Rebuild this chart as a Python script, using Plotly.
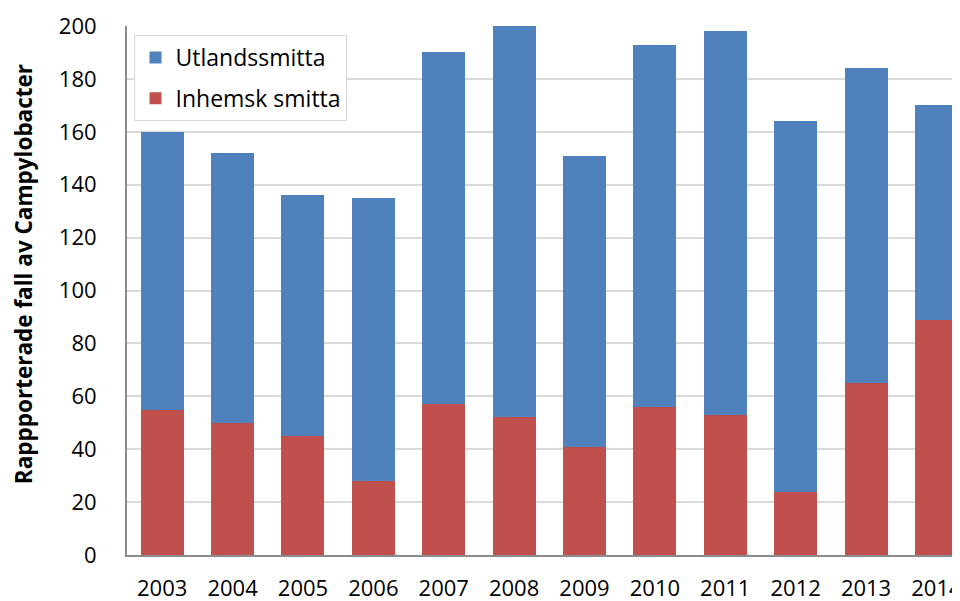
import plotly.graph_objects as go

years = ["2003", "2004", "2005", "2006", "2007", "2008", "2009", "2010", "2011", "2012", "2013", "2014"]
inhemsk = [55, 50, 45, 28, 57, 52, 41, 56, 53, 24, 65, 89]
utlands = [105, 102, 91, 107, 133, 148, 110, 137, 145, 140, 119, 81]
y_ticks = [0, 20, 40, 60, 80, 100, 120, 140, 160, 180, 200]

FONT = "Open Sans"

fig = go.Figure()
fig.add_trace(go.Bar(x=years, y=inhemsk, name="Inhemsk smitta", marker_color="#C0504D",
                     marker_line_width=0, legendgroup="b", legendrank=2))
fig.add_trace(go.Bar(x=years, y=utlands, name="Utlandssmitta", marker_color="#4F81BD",
                     marker_line_width=0, legendgroup="a", legendrank=1))

# page body has an 8px default margin, so the figure is sized/offset to compensate
fig.update_layout(
    width=952, height=593,
    margin=dict(l=119, r=0, t=18, b=46, autoexpand=False),
    barmode="stack", bargap=0.39,
    plot_bgcolor="white", paper_bgcolor="white",
    font=dict(family=FONT, size=22, color="black"),
    showlegend=True,
    legend=dict(
        x=0.009, y=0.983, xanchor="left", yanchor="top",
        traceorder="grouped", tracegroupgap=8,
        bgcolor="white", bordercolor="#d9d9d9", borderwidth=1,
        font=dict(family=FONT, size=23, color="black"),
    ),
    annotations=[dict(
        text="<b>Rappporterade fall av Campylobacter</b>",
        xref="paper", yref="paper", x=-0.1248, y=0.531,
        xanchor="center", yanchor="middle", textangle=-90, showarrow=False,
        font=dict(family=FONT, size=22.5, color="black"),
    )],
)
fig.update_xaxes(
    type="category", range=[-0.5, 11.335], automargin=False,
    showline=True, linecolor="#8c8c8c", linewidth=2,
    showgrid=False, ticks="", ticklabelstandoff=13,
    tickfont=dict(family=FONT, size=22),
)
fig.update_yaxes(
    range=[0, 200], tickvals=y_ticks, automargin=False,
    showline=True, linecolor="#8c8c8c", linewidth=2,
    showgrid=True, gridcolor="#d9d9d9", gridwidth=1.5,
    zeroline=False, ticks="", ticklabelstandoff=24,
    tickfont=dict(family=FONT, size=22),
)

fig.write_html("out.html")
